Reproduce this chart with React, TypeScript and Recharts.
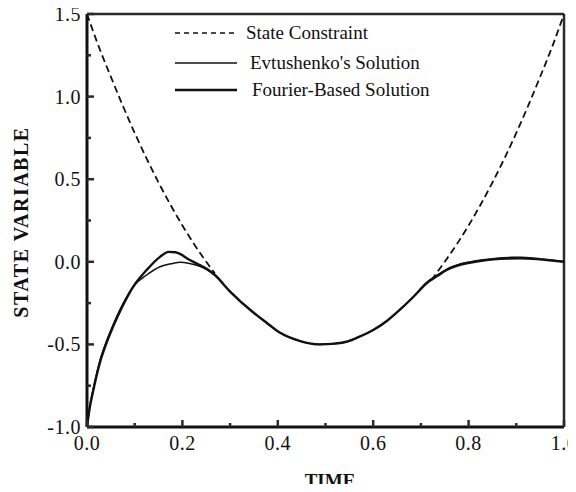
import { Line, LineChart, ReferenceLine, XAxis, YAxis, Label } from "recharts";

// values
const constraintLeftT = [0, 0.025, 0.05, 0.075, 0.1, 0.125, 0.15, 0.175, 0.2, 0.225, 0.25, 0.268];
const constraintLeftV = [1.5, 1.3, 1.12, 0.945, 0.78, 0.625, 0.48, 0.345, 0.22, 0.105, 0.0, -0.07];
const constraintRightT = [0.722, 0.75, 0.775, 0.8, 0.825, 0.85, 0.875, 0.9, 0.925, 0.95, 0.975, 1.0];
const constraintRightV = [-0.11, 0.0, 0.105, 0.22, 0.345, 0.48, 0.625, 0.78, 0.945, 1.12, 1.3, 1.5];

const fourierT = [0, 0.006, 0.013, 0.027, 0.041, 0.055, 0.076, 0.097, 0.125, 0.153, 0.171, 0.185, 0.197, 0.21, 0.23, 0.25, 0.268, 0.3, 0.35, 0.377, 0.405, 0.447, 0.488, 0.52, 0.544, 0.57, 0.6, 0.63, 0.656, 0.685, 0.712, 0.735, 0.754, 0.775, 0.796, 0.82, 0.852, 0.88, 0.908, 0.935, 0.964, 1.0];
const fourierV = [-1.0, -0.88, -0.78, -0.61, -0.49, -0.39, -0.26, -0.15, -0.05, 0.03, 0.06, 0.058, 0.045, 0.02, -0.01, -0.04, -0.08, -0.18, -0.31, -0.37, -0.43, -0.48, -0.5, -0.495, -0.484, -0.455, -0.413, -0.355, -0.29, -0.21, -0.13, -0.085, -0.05, -0.025, -0.009, 0.003, 0.015, 0.02, 0.021, 0.018, 0.01, 0.0];

const evtT = [0, 0.006, 0.013, 0.027, 0.041, 0.055, 0.076, 0.097, 0.125, 0.153, 0.18, 0.195, 0.215, 0.235, 0.25, 0.268, 0.3, 0.35, 0.377, 0.405, 0.447, 0.488, 0.52, 0.544, 0.57, 0.6, 0.63, 0.656, 0.685, 0.712, 0.74, 0.76, 0.78, 0.8, 0.83, 0.86, 0.89, 0.91, 0.94, 0.97, 1.0];
const evtV = [-1.0, -0.87, -0.77, -0.6, -0.48, -0.38, -0.25, -0.15, -0.08, -0.03, -0.01, -0.003, -0.01, -0.025, -0.045, -0.08, -0.18, -0.31, -0.37, -0.43, -0.48, -0.5, -0.495, -0.484, -0.455, -0.413, -0.355, -0.29, -0.21, -0.125, -0.07, -0.035, -0.015, -0.002, 0.012, 0.022, 0.027, 0.028, 0.022, 0.012, 0.0];

const xTicks = [0, 0.1, 0.2, 0.3, 0.4, 0.5, 0.6, 0.7, 0.8, 0.9, 1.0];
const yTicks = [-1.0, -0.75, -0.5, -0.25, 0, 0.25, 0.5, 0.75, 1.0, 1.25, 1.5];

const legendNames = ["State Constraint", "Evtushenko's Solution", "Fourier-Based Solution"];

const zip = (t: number[], v: number[]) => t.map((x, i) => ({ t: x, v: v[i] }));

const constraintLeft = zip(constraintLeftT, constraintLeftV);
const constraintRight = zip(constraintRightT, constraintRightV);
const fourier = zip(fourierT, fourierV);
const evt = zip(evtT, evtV);

const FONT = "'Liberation Serif', 'Times New Roman', serif";
const INK = "#111";
const FRAME = "#2a2a2a";

function XTick({ x, y, payload }: any) {
  const major = Math.round(payload.value * 10) % 2 === 0;
  return (
    <g>
      <line x1={x} x2={x} y1={y} y2={y - (major ? 7 : 4)} stroke={FRAME} strokeWidth={2.5} />
      {major && (
        <text x={x} y={y + 23} textAnchor="middle" fontFamily={FONT} fontSize={20} letterSpacing={0.5} fill={INK}>
          {payload.value.toFixed(1)}
        </text>
      )}
    </g>
  );
}

function YTick({ x, y, payload }: any) {
  const major = Math.round(payload.value * 100) % 50 === 0;
  return (
    <g>
      <line x1={x} x2={x + (major ? 7 : 4)} y1={y} y2={y} stroke={FRAME} strokeWidth={2.5} />
      {major && (
        <text x={x - 6} y={y + 7} textAnchor="end" fontFamily={FONT} fontSize={20} letterSpacing={0.5} fill={INK}>
          {payload.value.toFixed(1)}
        </text>
      )}
    </g>
  );
}

function LegendBox() {
  const styles = [
    { dash: "5 4", width: 1.6 },
    { dash: undefined, width: 1.5 },
    { dash: undefined, width: 2.4 },
  ];
  const rows = [33, 63, 90];
  const textX = [246, 250, 252];
  return (
    <svg width={576} height={110} style={{ position: "absolute", left: 0, top: 0 }}>
      {legendNames.map((name, i) => (
        <g key={name}>
          <line x1={175} x2={237} y1={rows[i]} y2={rows[i]} stroke={INK} strokeWidth={styles[i].width} strokeDasharray={styles[i].dash} />
          <text x={textX[i]} y={rows[i] + 6} fontFamily={FONT} fontSize={19} fill={INK}>
            {name}
          </text>
        </g>
      ))}
    </svg>
  );
}

export default function App() {
  return (
    <div style={{ margin: -8, position: "relative", width: 576, height: 492, background: "#fff" }}>
      <LineChart width={576} height={492} margin={{ top: 14, right: 12, left: 27, bottom: 0 }}>
        <XAxis
          dataKey="t"
          type="number"
          domain={[0, 1]}
          ticks={xTicks}
          tick={<XTick />}
          tickSize={0}
          tickMargin={0}
          interval={0}
          height={65}
          axisLine={{ stroke: INK, strokeWidth: 3 }}
        >
          <Label
            content={() => (
              <text x={330} y={487} textAnchor="middle" fontFamily={FONT} fontSize={19} fontWeight="bold" fill={INK}>
                TIME
              </text>
            )}
          />
        </XAxis>
        <YAxis
          dataKey="v"
          type="number"
          domain={[-1, 1.5]}
          ticks={yTicks}
          tick={<YTick />}
          tickSize={0}
          tickMargin={0}
          interval={0}
          width={60}
          axisLine={{ stroke: INK, strokeWidth: 3 }}
        >
          <Label
            content={() => (
              <text transform="translate(28,222) rotate(-90)" textAnchor="middle" fontFamily={FONT} fontSize={20} letterSpacing={1.5} fontWeight="bold" fill={INK}>
                STATE VARIABLE
              </text>
            )}
          />
        </YAxis>
        <ReferenceLine y={1.5} stroke={FRAME} strokeWidth={2.5} ifOverflow="visible" />
        <ReferenceLine x={1} stroke={FRAME} strokeWidth={2.5} ifOverflow="visible" />
        <Line data={constraintLeft} dataKey="v" type="monotone" stroke={INK} strokeWidth={1.8} strokeDasharray="7 4" dot={false} isAnimationActive={false} />
        <Line data={constraintRight} dataKey="v" type="monotone" stroke={INK} strokeWidth={1.8} strokeDasharray="7 4" dot={false} isAnimationActive={false} />
        <Line data={evt} dataKey="v" type="monotone" stroke={INK} strokeWidth={1.5} dot={false} isAnimationActive={false} />
        <Line data={fourier} dataKey="v" type="monotone" stroke={INK} strokeWidth={2.4} dot={false} isAnimationActive={false} />
      </LineChart>
      <LegendBox />
    </div>
  );
}
